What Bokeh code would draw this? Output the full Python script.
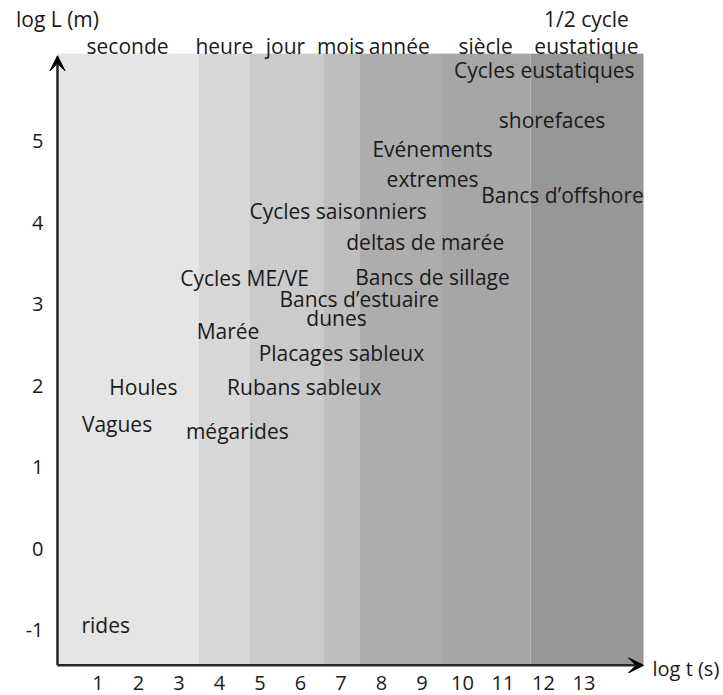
from bokeh.plotting import figure
from bokeh.models import Arrow, VeeHead, FixedTicker, Range1d, LinearAxis
from bokeh.core.properties import value
from bokeh.embed import file_html
from bokeh.resources import INLINE

# ---- data ----
band_names = ["seconde", "heure", "jour", "mois", "année", "siècle", "eustatique"]
band_edges = [0.0, 3.48, 4.74, 6.56, 7.45, 9.47, 11.68, 14.47]
band_colors = ["#e5e5e5", "#d8d8d8", "#cbcbcb", "#bebebe", "#adadad", "#a6a6a6", "#979797"]
header_x = [1.73, 4.12, 5.63, 6.99, 8.44, 10.57, 13.06]
top_titles = ["log L (m)", "1/2 cycle"]
top_titles_x = [0.0, 13.06]

labels = ["Cycles eustatiques", "shorefaces", "Evénements", "extremes",
          "Bancs d\u2019offshore", "Cycles saisonniers", "deltas de marée",
          "Cycles ME/VE", "Bancs de sillage", "Bancs d\u2019estuaire", "dunes",
          "Marée", "Placages sableux", "Houles", "Rubans sableux", "Vagues",
          "mégarides", "rides"]
log_t = [12.02, 12.21, 9.26, 9.26, 12.47, 6.93, 9.08, 4.62, 9.26, 7.45, 6.89,
         4.21, 7.01, 2.12, 6.09, 1.47, 4.44, 1.19]
log_L = [5.88, 5.26, 4.90, 4.54, 4.34, 4.14, 3.76, 3.32, 3.33, 3.07, 2.83,
         2.67, 2.40, 1.98, 1.98, 1.53, 1.44, -0.94]

x_ticks = list(range(1, 14))
y_ticks = list(range(-1, 6))
x_title = "log t (s)"
x_title_y = -1.47

# extent of the chart background / axes (data units)
bg_x0, bg_x1 = 0.0, 14.47
bg_y0, bg_y1 = -1.43, 6.08
arrow_y_tip = 6.05

# view window (slightly larger than the background so arrow heads show)
view_x = (-0.222, 14.642)
view_y = (-1.530, 6.078)

FONT = "Open Sans"
FS = "21px"
TICK_FS = "20px"
TXT = "#1a1a1a"
AXC = "#262626"

p = figure(width=723, height=695, output_backend="svg", toolbar_location=None,
           x_range=Range1d(*view_x), y_range=Range1d(*view_y),
           min_border_left=48, min_border_right=73, min_border_top=53,
           min_border_bottom=22)
p.grid.visible = False
p.outline_line_color = None
p.background_fill_color = "white"
p.border_fill_color = "white"

p.quad(left=band_edges[:-1], right=band_edges[1:], bottom=bg_y0, top=bg_y1,
       fill_color=band_colors, line_color=None)

p.text(x=log_t, y=log_L, text=labels, text_align="center", text_baseline="middle",
       text_font=value(FONT), text_font_size=FS, text_color=TXT)


def style(ax, fs, standoff):
    ax.axis_line_color = None
    ax.major_tick_line_color = None
    ax.minor_tick_line_color = None
    ax.major_tick_in = 0
    ax.major_tick_out = 0
    ax.major_label_text_font = FONT
    ax.major_label_text_font_size = fs
    ax.major_label_text_color = TXT
    ax.major_label_standoff = standoff


style(p.xaxis[0], TICK_FS, 2)
style(p.yaxis[0], TICK_FS, 5)
p.xaxis.ticker = FixedTicker(ticks=x_ticks)
p.yaxis.ticker = FixedTicker(ticks=y_ticks)
p.yaxis.major_label_overrides = {-1: "-1"}

# header rows above the chart
ax_head = LinearAxis(ticker=FixedTicker(ticks=header_x),
                     major_label_overrides={hx: n for hx, n in zip(header_x, band_names)})
style(ax_head, FS, -6)
p.add_layout(ax_head, "above")

ax_top = LinearAxis(ticker=FixedTicker(ticks=top_titles_x),
                    major_label_overrides={tx: n for tx, n in zip(top_titles_x, top_titles)})
style(ax_top, FS, -4)
p.add_layout(ax_top, "above")

# x title at the right of the arrow
ax_right = LinearAxis(ticker=FixedTicker(ticks=[x_title_y]),
                      major_label_overrides={x_title_y: x_title})
style(ax_right, TICK_FS, 2)
p.add_layout(ax_right, "right")

# axes drawn as arrows
p.add_layout(Arrow(end=VeeHead(size=15, fill_color="black", line_color="black"),
                   x_start=bg_x0, y_start=bg_y0, x_end=bg_x0, y_end=arrow_y_tip,
                   line_color=AXC, line_width=2.5))
p.add_layout(Arrow(end=VeeHead(size=15, fill_color="black", line_color="black"),
                   x_start=bg_x0, y_start=bg_y0, x_end=bg_x1, y_end=bg_y0,
                   line_color=AXC, line_width=2.5))

open("out.html", "w").write(file_html(p, INLINE))
